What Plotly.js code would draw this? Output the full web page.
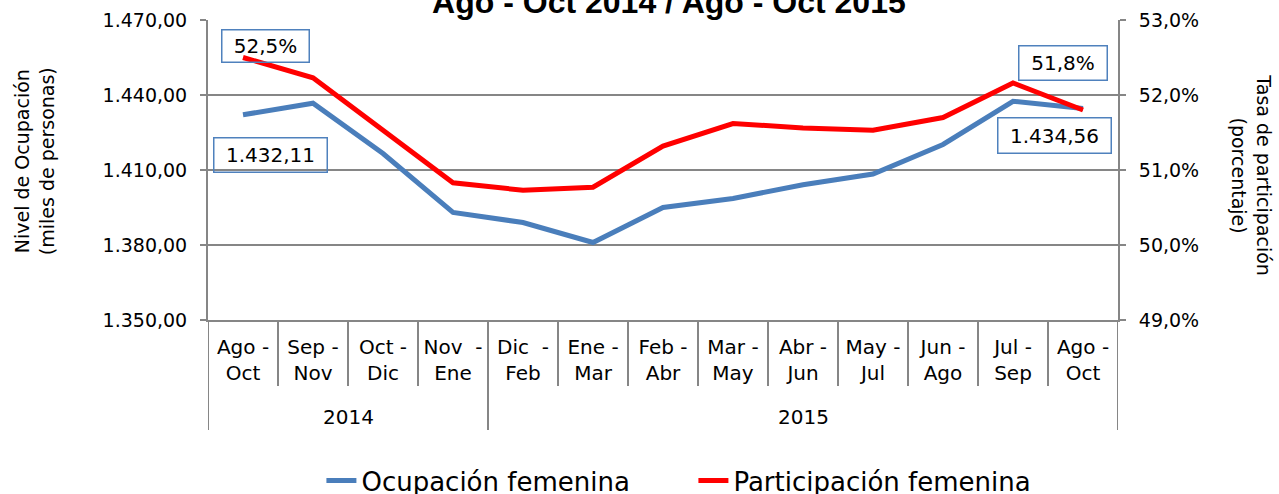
<!DOCTYPE html>
<html><head><meta charset="utf-8">
<script src="https://cdn.plot.ly/plotly-3.0.1.min.js"></script>
<style>html,body{margin:0;padding:0;background:#fff}</style>
</head><body><div id="chart" style="width:1279px;height:494px"></div>
<script>
const years = ["2014","2014","2014","2014","2015","2015","2015","2015","2015","2015","2015","2015","2015"];
const periods = ["Ago -<br>Oct","Sep -<br>Nov","Oct -<br>Dic","Nov  -<br>Ene","Dic  -<br>Feb","Ene -<br>Mar","Feb -<br>Abr","Mar -<br>May","Abr -<br>Jun","May -<br>Jul","Jun -<br>Ago","Jul -<br>Sep","Ago -<br>Oct"];
const ocupacion = [1432.11,1436.7,1416.6,1393.0,1389.0,1381.0,1395.0,1398.6,1404.1,1408.4,1420.2,1437.5,1434.56];
const participacion = [52.5,52.23,51.53,50.83,50.73,50.77,51.32,51.62,51.56,51.53,51.70,52.16,51.8];
const seriesNames = ["Ocupación femenina","Participación femenina"];
const titleText = "Ago - Oct 2014 / Ago - Oct 2015";

function fmtNum(v){
  const parts = v.toFixed(2).split(".");
  parts[0] = parts[0].replace(/\B(?=(\d{3})+(?!\d))/g, ".");
  return parts[0] + "," + parts[1];
}
function fmtPct(v){ return v.toFixed(1).replace(".", ",") + "%"; }

const FONT = "DejaVu Sans, Verdana, sans-serif";
const GRAY = "#868686";
const BLUE = "#4A7EBB";
const RED = "#FF0000";
const idx = periods.map((_, i) => i);
const last = idx.length - 1;

const traces = [
  {x:idx, y:ocupacion, name:seriesNames[0], type:"scatter", mode:"lines",
   line:{color:BLUE, width:5}, yaxis:"y"},
  {x:idx, y:participacion, name:seriesNames[1], type:"scatter", mode:"lines",
   line:{color:RED, width:5}, yaxis:"y2"}
];

// category boundary lines and year groups (derived from the arrays)
const shapes = [];
const annotations = [];
const INNER = -0.22, OUTER = -0.367;
for (let i = 0; i <= idx.length; i++) {
  const isGroupEdge = (i === 0 || i === idx.length || years[i] !== years[i-1]);
  shapes.push({type:"line", xref:"x", yref:"paper", x0:i-0.5, x1:i-0.5, y0:0, y1:isGroupEdge?OUTER:INNER,
    line:{color:GRAY, width:2}});
}
const groups = [];
years.forEach((y, i) => {
  if (!groups.length || groups[groups.length-1].name !== y) groups.push({name:y, start:i, end:i});
  else groups[groups.length-1].end = i;
});
groups.forEach(g => annotations.push({text:g.name, xref:"x", yref:"paper", x:(g.start+g.end)/2, y:-0.323,
  showarrow:false, xanchor:"center", yanchor:"middle", font:{family:FONT, size:20, color:"#000"}}));

function box(text, x, y, yref, xs, ys, w, h){
  return {text:text, x:x, y:y, xref:"x", yref:yref, showarrow:false, xshift:xs, yshift:ys,
    xanchor:"center", yanchor:"middle",
    width:w, height:h, bordercolor:"#4F81BD", borderwidth:1.5, borderpad:1,
    font:{family:FONT, size:20, color:"#000"}};
}
annotations.push(
  box(fmtPct(participacion[0]), 0, participacion[0], "y2", 22, 12, 84, 29),
  box(fmtNum(ocupacion[0]), 0, ocupacion[0], "y", 27, -40, 110, 31),
  box(fmtPct(participacion[last]), last, participacion[last], "y2", -20, 47, 85, 31),
  box(fmtNum(ocupacion[last]), last, ocupacion[last], "y", -29, -27, 110, 32),
  {text:"Nivel de Ocupación<br>(miles de personas)", xref:"paper", yref:"paper", x:-0.191, y:0.53,
   xanchor:"center", yanchor:"middle", textangle:-90, showarrow:false, font:{family:FONT, size:19, color:"#000"}},
  {text:"Tasa de participación<br>(porcentaje)", xref:"paper", yref:"paper", x:1.147, y:0.483,
   xanchor:"center", yanchor:"middle", textangle:90, showarrow:false, font:{family:FONT, size:19, color:"#000"}}
);

const layout = {
  width:1279, height:494,
  margin:{l:208, r:161, t:20, b:174},
  paper_bgcolor:"#fff", plot_bgcolor:"#fff",
  separators:",.",
  showlegend:true,
  title:{text:"<b>"+titleText+"</b>", font:{family:"Liberation Sans, Arial, sans-serif", size:32, color:"#000"},
    xref:"container", x:0.523, yref:"container", y:0.9964, yanchor:"middle", xanchor:"center"},
  xaxis:{range:[-0.5, idx.length-0.5], tickmode:"array", tickvals:idx, ticktext:periods,
    showline:true, linecolor:GRAY, linewidth:2, ticks:"", showgrid:false, zeroline:false,
    ticklabelstandoff:8, automargin:false,
    tickfont:{family:FONT, size:20, color:"#000"}},
  yaxis:{range:[1350,1470], tick0:1350, dtick:30, tickformat:",.2f", automargin:false,
    showline:true, linecolor:GRAY, linewidth:2, ticks:"outside", ticklen:6, tickcolor:GRAY, tickwidth:2,
    gridcolor:GRAY, gridwidth:2, zeroline:false, ticklabelstandoff:9,
    tickfont:{family:FONT, size:19, color:"#000"}},
  yaxis2:{range:[49,53], tick0:49, dtick:1, tickformat:".1f", ticksuffix:"%", automargin:false,
    overlaying:"y", side:"right", showgrid:false, zeroline:false, ticklabelstandoff:9,
    showline:true, linecolor:GRAY, linewidth:2, ticks:"outside", ticklen:6, tickcolor:GRAY, tickwidth:2,
    tickfont:{family:FONT, size:19, color:"#000"}},
  legend:{orientation:"h", xref:"container", x:0.2513, xanchor:"left", yref:"container", y:0.027, yanchor:"middle",
    entrywidth:327, entrywidthmode:"pixels",
    font:{family:FONT, size:26, color:"#000"}, bgcolor:"rgba(0,0,0,0)"},
  shapes:shapes,
  annotations:annotations
};

Plotly.newPlot("chart", traces, layout, {displayModeBar:false, staticPlot:true});
</script></body></html>
